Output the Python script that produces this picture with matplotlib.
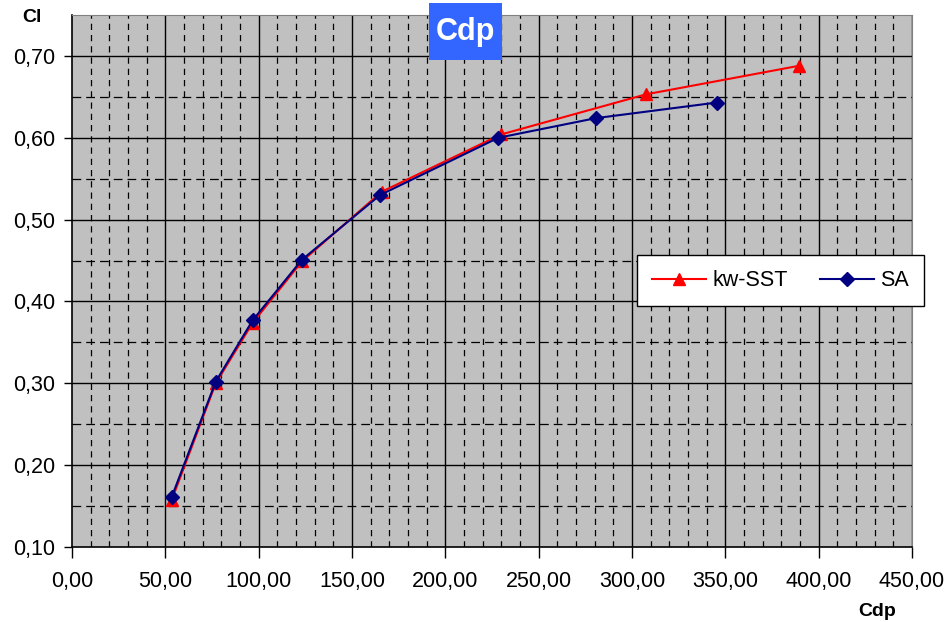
import matplotlib.pyplot as plt
from matplotlib.patches import Rectangle
import numpy as np

plt.rcParams['font.family'] = ['Liberation Sans', 'DejaVu Sans']

# kw-SST series
sst_cdp = [53.5, 77.0, 96.8, 123.2, 165.9, 229.8, 307.4, 389.6]
sst_cl = [0.158, 0.300, 0.374, 0.449, 0.534, 0.604, 0.653, 0.688]

# SA series
sa_cdp = [53.4, 77.0, 96.8, 123.2, 165.0, 228.4, 280.7, 345.3]
sa_cl = [0.161, 0.302, 0.377, 0.451, 0.530, 0.600, 0.624, 0.643]

x_ticks = np.arange(0, 451, 50)
y_ticks = np.arange(0.10, 0.71, 0.10)


def comma(v, dec=2):
    return f'{v:.{dec}f}'.replace('.', ',')


W, H = 947, 622
fig = plt.figure(figsize=(W / 100, H / 100), dpi=100)
ax = fig.add_axes([72 / W, 1 - 547 / H, 840 / W, 532 / H])
ax.set_facecolor('#C0C0C0')

ax.set_xlim(0, 450)
ax.set_ylim(0.10, 0.75)

# minor grid: vertical dashed every 10, horizontal dashed at the half steps
for xv in np.arange(10, 450, 10):
    if xv % 50 != 0:
        ax.axvline(xv, color='black', lw=0.9, ls=(0, (5, 4)), zorder=1)
for yv in np.arange(0.15, 0.75, 0.10):
    ax.axhline(yv, color='black', lw=0.9, ls=(0, (7, 4)), zorder=1)
# major grid
for xv in x_ticks[1:]:
    ax.axvline(xv, color='black', lw=1.0, zorder=1.5)
for yv in np.arange(0.20, 0.75, 0.10):
    ax.axhline(yv, color='black', lw=1.0, zorder=1.5)

ax.plot(sst_cdp, sst_cl, color='#FF0000', lw=1.5, marker='^', ms=9,
        markeredgecolor='#FF0000', label='kw-SST', zorder=3)
ax.plot(sa_cdp, sa_cl, color='#000080', lw=1.5, marker='D', ms=7,
        markeredgecolor='#000080', label='SA', zorder=4)

ax.set_xticks(x_ticks)
ax.set_xticklabels([comma(v) for v in x_ticks])
ax.set_yticks(y_ticks)
ax.set_yticklabels([comma(v) for v in y_ticks])
ax.tick_params(axis='x', direction='out', length=8, width=1, pad=9, labelsize=15.5)
ax.tick_params(axis='y', direction='out', length=6, width=1, pad=6, labelsize=15.5)

for side in ['top', 'right']:
    ax.spines[side].set_color('#808080')
for side in ['left', 'bottom']:
    ax.spines[side].set_color('black')
    ax.spines[side].set_linewidth(1.2)

leg = ax.legend(loc='upper left', bbox_to_anchor=(565 / 840, 1 - 240 / 532), ncol=2,
                fontsize=15.5, frameon=True, fancybox=False, edgecolor='black',
                framealpha=1, handlelength=2.5, handletextpad=0.3,
                columnspacing=1.5, borderpad=0.7, borderaxespad=0)
leg.get_frame().set_linewidth(1.0)

# title box
fig.patches.append(Rectangle((429 / W, 1 - 60 / H), 73 / W, 57 / H,
                             transform=fig.transFigure, facecolor='#3366FF',
                             edgecolor='none', zorder=5))
fig.text(465.5 / W, 1 - 32 / H, 'Cdp', ha='center', va='center', color='white',
         fontsize=22, fontweight='bold', zorder=6)
fig.text(32 / W, 1 - 18 / H, 'Cl', ha='center', va='center', fontsize=14,
         fontweight='bold')
fig.text(877 / W, 1 - 611 / H, 'Cdp', ha='center', va='center', fontsize=14,
         fontweight='bold')

fig.savefig('out.png', dpi=100)
